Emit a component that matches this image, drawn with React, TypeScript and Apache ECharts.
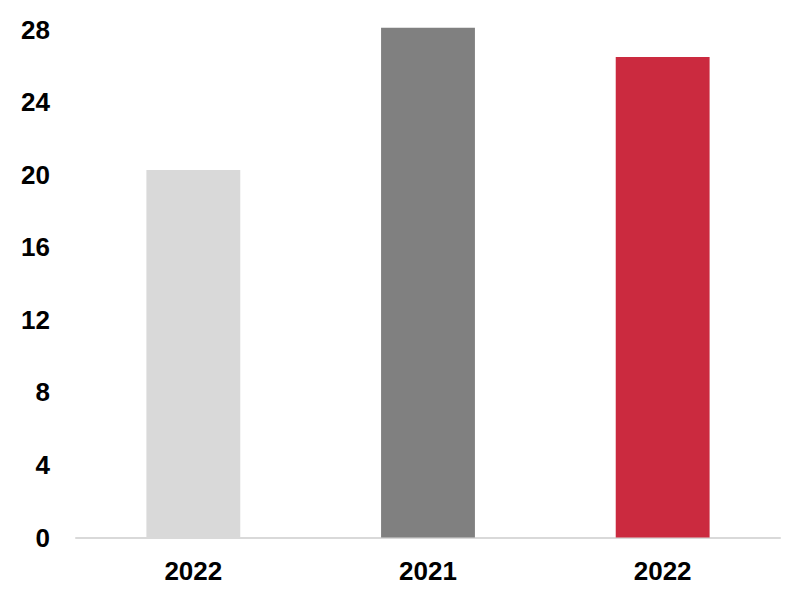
import React, { useEffect, useRef } from "react";
import * as echarts from "echarts";

const categories = ["2022", "2021", "2022"];
const values = [20.26, 28.09, 26.49];
const barColors = ["#d9d9d9", "#808080", "#cb2a3f"];
const yTicks = { min: 0, max: 28, interval: 4 };

export default function App() {
  const ref = useRef<HTMLDivElement>(null);
  useEffect(() => {
    document.body.style.margin = "0";
    const chart = echarts.init(ref.current!, null, { renderer: "svg" });
    chart.setOption({
      animation: false,
      grid: { left: 76, right: 24, top: 29.5, bottom: 60.5, containLabel: false },
      xAxis: {
        type: "category",
        data: categories,
        axisLine: { show: true, lineStyle: { color: "#d9d9d9", width: 2 } },
        axisTick: { show: false },
        axisLabel: {
          color: "#000",
          fontFamily: "Liberation Sans, Arial, sans-serif",
          fontWeight: "bold",
          fontSize: 26,
          margin: 20,
        },
      },
      yAxis: {
        type: "value",
        min: yTicks.min,
        max: yTicks.max,
        interval: yTicks.interval,
        splitLine: { show: false },
        axisLine: { show: false },
        axisTick: { show: false },
        axisLabel: {
          color: "#000",
          fontFamily: "Liberation Sans, Arial, sans-serif",
          fontWeight: "bold",
          fontSize: 26,
          margin: 26,
        },
      },
      series: [
        {
          type: "bar",
          clip: false,
          barWidth: "40%",
          data: values.map((v, i) => ({ value: v, itemStyle: { color: barColors[i] } })),
        },
      ],
    });
    return () => chart.dispose();
  }, []);
  return <div ref={ref} style={{ width: 804, height: 598 }} />;
}
